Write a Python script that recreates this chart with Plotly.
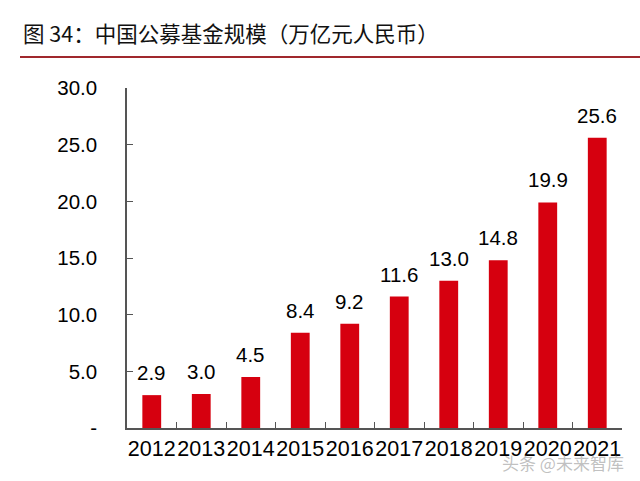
import plotly.graph_objects as go

years = ["2012", "2013", "2014", "2015", "2016", "2017", "2018", "2019", "2020", "2021"]
values = [2.9, 3.0, 4.5, 8.4, 9.2, 11.6, 13.0, 14.8, 19.9, 25.6]
y_tickvals = [0, 5, 10, 15, 20, 25, 30]
y_ticktext = ["-", "5.0", "10.0", "15.0", "20.0", "25.0", "30.0"]
title_text = "图 34：中国公募基金规模（万亿元人民币）"
watermark = "头条 @未来智库"

bar_color = "#D6000F"
font_main = "Liberation Sans, Arial, sans-serif"

W, H = 640, 481
ml, mr, mt, mb = 127, 18, 88, 53
pw, ph = W - ml - mr, H - mt - mb


def px(x):
    return (x - ml) / pw


def py(y):
    return (H - mb - y) / ph


fig = go.Figure()
fig.add_trace(go.Bar(x=years, y=values, marker=dict(color=bar_color, line=dict(width=0)),
                     hoverinfo="skip"))

annotations = []
for i, v in enumerate(values):
    annotations.append(dict(x=i, y=v, text=f"{v:.1f}", showarrow=False, xref="x", yref="y",
                            yanchor="bottom", yshift=9,
                            font=dict(family=font_main, size=20.5, color="#000000")))
annotations.append(dict(x=px(21), y=py(33), xref="paper", yref="paper", text=title_text,
                        showarrow=False, xanchor="left", yanchor="middle",
                        font=dict(family="Noto Sans CJK SC", size=21.5, color="#111111")))
annotations.append(dict(x=px(626), y=py(462), xref="paper", yref="paper", text=watermark,
                        showarrow=False, xanchor="right", yanchor="middle",
                        font=dict(family="Noto Sans CJK SC", size=17, color="rgba(140,140,140,0.55)")))

fig.update_layout(
    width=W, height=H,
    margin=dict(l=ml, r=mr, t=mt, b=mb, pad=0),
    paper_bgcolor="white", plot_bgcolor="white",
    showlegend=False,
    bargap=0.62,
    annotations=annotations,
    shapes=[dict(type="line", xref="paper", yref="paper",
                 x0=px(20), x1=px(640), y0=py(57), y1=py(57),
                 line=dict(color="#A0282D", width=2))],
    xaxis=dict(type="category", range=[-0.5, len(years) - 0.5], autorange=False,
               showline=True, linecolor="#555555", linewidth=1.5,
               ticks="inside", ticklen=6, tickcolor="#555555", tickson="boundaries",
               showgrid=False, tickangle=0,
               tickfont=dict(family=font_main, size=21.5, color="#000000"),
               fixedrange=True),
    yaxis=dict(range=[0, 30], autorange=False, tickvals=y_tickvals, ticktext=y_ticktext,
               showline=True, linecolor="#555555", linewidth=1.5,
               ticks="inside", ticklen=6, tickcolor="#555555",
               showgrid=False, zeroline=False, ticklabelstandoff=24,
               tickfont=dict(family=font_main, size=20.5, color="#000000"),
               fixedrange=True),
)

fig.write_html("out.html")
